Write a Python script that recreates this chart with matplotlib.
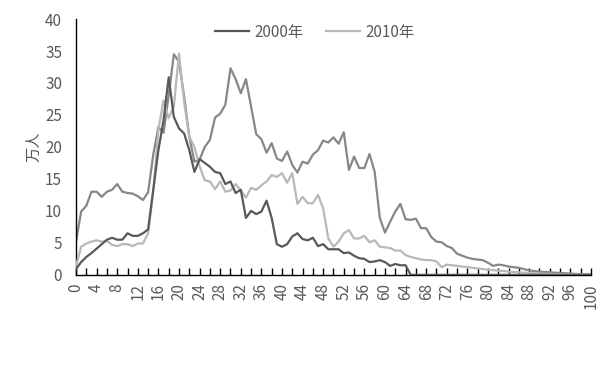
import matplotlib
matplotlib.use("Agg")
import matplotlib.pyplot as plt
import numpy as np

plt.rcParams['font.family'] = ['Noto Sans CJK SC', 'DejaVu Sans']

ages = list(range(0, 101))

pop_2000 = [0.9, 2.0, 2.8, 3.4, 4.1, 4.8, 5.5, 5.8, 5.5, 5.5,
            6.5, 6.1, 6.1, 6.5, 7.1, 13.3, 19.5, 24.2, 30.9, 24.7,
            22.9, 22.1, 19.5, 16.1, 18.1, 17.5, 16.9, 16.1, 15.9, 14.2,
            14.6, 12.8, 13.3, 8.9, 10.0, 9.5, 9.9, 11.6, 8.9, 4.8,
            4.4, 4.8, 6.0, 6.5, 5.6, 5.4, 5.8, 4.5, 4.8, 4.0,
            4.0, 4.0, 3.4, 3.5, 3.0, 2.6, 2.5, 2.0, 2.1, 2.3,
            2.0, 1.4, 1.7, 1.5, 1.5, 0, 0, 0, 0, 0,
            0, 0, 0, 0, 0, 0, 0, 0, 0, 0,
            0, 0, 0, 0, 0, 0, 0, 0, 0, 0,
            0, 0, 0, 0, 0, 0, 0, 0, 0, 0, 0]

pop_2010 = [1.4, 4.4, 4.9, 5.2, 5.4, 5.2, 5.3, 4.7, 4.5, 4.8,
            4.8, 4.5, 4.9, 4.9, 6.5, 13.0, 22.7, 27.3, 24.5, 26.3,
            34.6, 27.0, 21.6, 20.0, 17.0, 14.8, 14.6, 13.4, 14.6, 13.0,
            13.2, 14.2, 13.2, 12.1, 13.6, 13.3, 14.0, 14.6, 15.6, 15.3,
            15.9, 14.4, 15.9, 11.1, 12.2, 11.2, 11.2, 12.5, 10.4, 5.7,
            4.4, 5.2, 6.5, 7.0, 5.7, 5.7, 6.1, 5.1, 5.4, 4.4,
            4.3, 4.2, 3.8, 3.8, 3.1, 2.8, 2.6, 2.4, 2.3, 2.3,
            2.1, 1.2, 1.6, 1.5, 1.4, 1.3, 1.2, 1.1, 1.0, 0.9,
            0.8, 0.75, 0.65, 0.6, 0.5, 0.45, 0.4, 0.35, 0.3, 0.25,
            0.2, 0.18, 0.15, 0.12, 0.1, 0.08, 0.06, 0.05, 0.04, 0.03, 0.03]

pop_other = [5.2, 9.9, 10.8, 13.0, 13.0, 12.2, 13.0, 13.3, 14.2, 13.0,
             12.8, 12.7, 12.3, 11.7, 12.9, 18.8, 23.1, 22.2, 28.1, 34.5,
             33.3, 27.9, 21.6, 17.7, 18.0, 20.0, 21.1, 24.6, 25.2, 26.6,
             32.3, 30.6, 28.4, 30.6, 26.3, 22.0, 21.2, 19.1, 20.6, 18.2,
             17.8, 19.3, 17.2, 16.0, 17.7, 17.4, 18.8, 19.5, 21.0, 20.7,
             21.5, 20.5, 22.3, 16.4, 18.5, 16.7, 16.7, 18.9, 16.1, 8.9,
             6.6, 8.3, 9.9, 11.1, 8.7, 8.6, 8.8, 7.3, 7.3, 5.9,
             5.2, 5.1, 4.5, 4.2, 3.3, 3.0, 2.7, 2.5, 2.4, 2.3,
             1.9, 1.4, 1.6, 1.5, 1.3, 1.2, 1.1, 0.9, 0.7, 0.6,
             0.5, 0.45, 0.4, 0.35, 0.3, 0.25, 0.2, 0.15, 0.12, 0.1, 0.1]

label_2000 = "2000年"
label_2010 = "2010年"
y_label = "万人"
x_ticks = list(range(0, 101, 4))
y_ticks = list(range(0, 41, 5))

fig = plt.figure(figsize=(6.13, 3.66), dpi=100)
ax = fig.add_axes([0.124, 0.249, 0.840, 0.699])

ax.plot(ages, pop_other, color="#878787", lw=1.6, zorder=2)
h2010, = ax.plot(ages, pop_2010, color="#b8b8b8", lw=1.6, zorder=3)
h2000, = ax.plot(ages, pop_2000, color="#595959", lw=1.6, zorder=4)

ax.set_xlim(0, 100)
ax.set_ylim(0, 40)
ax.set_xticks(x_ticks)
ax.set_xticklabels([str(t) for t in x_ticks], rotation=90)
ax.set_xticks(list(range(2, 101, 4)), minor=True)
ax.tick_params(axis='x', which='both', direction='in', length=5, width=1,
               colors='black', labelcolor='#595959', labelsize=11, pad=6)
ax.set_yticks(y_ticks)
ax.tick_params(axis='y', length=0, labelcolor='#595959', labelsize=11, pad=10)

for s in ['top', 'right']:
    ax.spines[s].set_visible(False)
for s in ['left', 'bottom']:
    ax.spines[s].set_color('black')
    ax.spines[s].set_linewidth(1)

ax.set_ylabel(y_label, color='#595959', fontsize=11, labelpad=2)

leg = ax.legend([h2000, h2010], [label_2000, label_2010],
                loc='upper center', bbox_to_anchor=(0.464, 1.035), ncol=2,
                frameon=False, fontsize=11, handlelength=2.2, columnspacing=1.5,
                handletextpad=0.35, labelcolor='#595959')

fig.savefig("out.png", dpi=100)
